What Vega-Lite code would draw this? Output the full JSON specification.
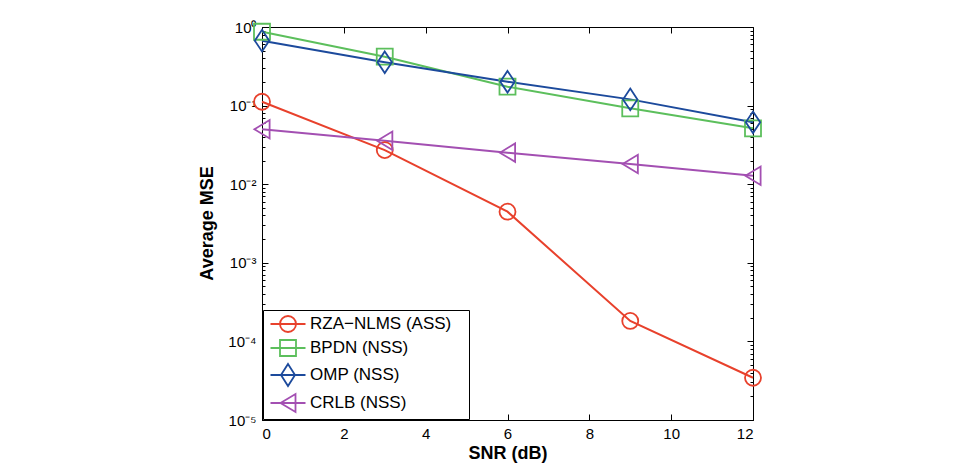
{
  "$schema": "https://vega.github.io/schema/vega-lite/v6.json",
  "autosize": "none",
  "width": 491,
  "height": 393,
  "padding": {"left": 262, "top": 27, "right": 208, "bottom": 52},
  "background": "white",
  "config": {
    "font": "Liberation Sans",
    "view": {"stroke": "black", "strokeWidth": 1},
    "axis": {"labelFont": "Liberation Sans", "labelFontSize": 15, "labelColor": "black", "domainColor": "black", "tickColor": "black", "tickWidth": 1, "ticks": true, "grid": false, "titleFont": "Liberation Sans", "titleFontSize": 18, "titleFontWeight": "bold", "titleColor": "black"},
    "axisX": {"ticks": true},
    "axisY": {"ticks": true},
    "legend": {
      "orient": "bottom-left", "offset": 1, "padding": 3, "strokeColor": "black", "fillColor": "white",
      "labelFont": "Liberation Sans", "labelFontSize": 17, "labelColor": "black", "labelLimit": 300,
      "symbolSize": 400, "symbolStrokeWidth": 1.8, "symbolOffset": 11, "labelOffset": 11, "rowPadding": 0
    },
    "point": {"filled": false, "strokeWidth": 1.8, "size": 256, "opacity": 1}
  },
  "data": {"values": [
    {"snr": 0, "mse": 0.112, "method": "RZA−NLMS (ASS)"},
    {"snr": 3, "mse": 0.0272, "method": "RZA−NLMS (ASS)"},
    {"snr": 6, "mse": 0.00447, "method": "RZA−NLMS (ASS)"},
    {"snr": 9, "mse": 0.000182, "method": "RZA−NLMS (ASS)"},
    {"snr": 12, "mse": 0.0000345, "method": "RZA−NLMS (ASS)"},
    {"snr": 0, "mse": 0.87, "method": "BPDN (NSS)"},
    {"snr": 3, "mse": 0.419, "method": "BPDN (NSS)"},
    {"snr": 6, "mse": 0.174, "method": "BPDN (NSS)"},
    {"snr": 9, "mse": 0.0924, "method": "BPDN (NSS)"},
    {"snr": 12, "mse": 0.0514, "method": "BPDN (NSS)"},
    {"snr": 0, "mse": 0.67, "method": "OMP (NSS)"},
    {"snr": 3, "mse": 0.356, "method": "OMP (NSS)"},
    {"snr": 6, "mse": 0.201, "method": "OMP (NSS)"},
    {"snr": 9, "mse": 0.12, "method": "OMP (NSS)"},
    {"snr": 12, "mse": 0.0613, "method": "OMP (NSS)"},
    {"snr": 0, "mse": 0.05, "method": "CRLB (NSS)"},
    {"snr": 3, "mse": 0.0357, "method": "CRLB (NSS)"},
    {"snr": 6, "mse": 0.0252, "method": "CRLB (NSS)"},
    {"snr": 9, "mse": 0.0181, "method": "CRLB (NSS)"},
    {"snr": 12, "mse": 0.0128, "method": "CRLB (NSS)"}
  ]},
  "layer": [
    {
      "mark": {"type": "line", "strokeWidth": 2},
      "encoding": {
        "x": {"field": "snr", "type": "quantitative", "title": "SNR (dB)",
          "scale": {"domain": [0, 12], "nice": false, "zero": false},
          "axis": {"orient": "bottom", "values": [0, 2, 4, 6, 8, 10, 12], "ticks": true,
            "tickSize": -6,
            "labelPadding": 12, "titleY": 24, "titleBaseline": "top"}},
        "y": {"field": "mse", "type": "quantitative", "title": "Average MSE",
          "scale": {"type": "log", "domain": [0.00001, 1], "nice": false},
          "axis": {"orient": "left", "ticks": true,
            "values": [0.00001,0.00002,0.00003,0.00004,0.00005,0.00006,0.00007,0.00008,0.00009,0.0001,0.0002,0.0003,0.0004,0.0005,0.0006,0.0007,0.0008,0.0009,0.001,0.002,0.003,0.004,0.005,0.006,0.007,0.008,0.009,0.01,0.02,0.03,0.04,0.05,0.06,0.07,0.08,0.09,0.1,0.2,0.3,0.4,0.5,0.6,0.7,0.8,0.9,1],
            "labelOverlap": false,
            "labelExpr": "abs(log(datum.value)/LN10 - round(log(datum.value)/LN10)) < 0.001 ? '10' + ['⁰','⁻¹','⁻²','⁻³','⁻⁴','⁻⁵'][-round(log(datum.value)/LN10)] : ''",
            "tickSize": {"condition": {"test": "abs(log(datum.value)/LN10 - round(log(datum.value)/LN10)) < 0.001", "value": -6}, "value": -3},
            "labelPadding": 12, "titleX": -55, "titleY": 196, "titleBaseline": "middle", "titleAngle": -90}},
        "color": {"field": "method", "type": "nominal",
          "scale": {"domain": ["RZA−NLMS (ASS)", "BPDN (NSS)", "OMP (NSS)", "CRLB (NSS)"], "range": ["#e8412c", "#5cbf5c", "#1c4a9c", "#a34fb2"]},
          "legend": {"title": null,
            "labelExpr": "datum.label + '\u00a0\u00a0\u00a0\u200b'",
            "encode": {"symbols": {"update": {
              "shape": {"signal": "datum.value === 'RZA−NLMS (ASS)' ? 'M-1.75,0H1.75M-0.8,0A0.8,0.8 0 1,1 0.8,0A0.8,0.8 0 1,1 -0.8,0' : datum.value === 'BPDN (NSS)' ? 'M-1.75,0H1.75M-0.8,-0.8H0.8V0.8H-0.8Z' : datum.value === 'OMP (NSS)' ? 'M-1.75,0H1.75M0,-1.1L0.7,0L0,1.1L-0.7,0Z' : 'M-1.75,0H1.75M-0.75,0L0.75,-0.9L0.75,0.9Z'"},
              "fill": {"value": "transparent"},
              "fillOpacity": {"value": 0}
            }}}}
        }
      }
    },
    {
      "transform": [{"filter": "datum.method === 'RZA−NLMS (ASS)'"}],
      "mark": {"type": "point", "shape": "circle"},
      "encoding": {
        "x": {"field": "snr", "type": "quantitative",
          "axis": {"orient": "top", "values": [0, 2, 4, 6, 8, 10, 12], "ticks": true,
            "tickSize": -6,
            "labels": false, "title": null, "domain": false}},
        "y": {"field": "mse", "type": "quantitative",
          "axis": {"orient": "right", "ticks": true,
            "values": [0.00001,0.00002,0.00003,0.00004,0.00005,0.00006,0.00007,0.00008,0.00009,0.0001,0.0002,0.0003,0.0004,0.0005,0.0006,0.0007,0.0008,0.0009,0.001,0.002,0.003,0.004,0.005,0.006,0.007,0.008,0.009,0.01,0.02,0.03,0.04,0.05,0.06,0.07,0.08,0.09,0.1,0.2,0.3,0.4,0.5,0.6,0.7,0.8,0.9,1],
            "tickSize": {"condition": {"test": "abs(log(datum.value)/LN10 - round(log(datum.value)/LN10)) < 0.001", "value": -6}, "value": -3},
            "labels": false, "title": null, "domain": false}},
        "color": {"field": "method", "type": "nominal"}
      }
    },
    {
      "transform": [{"filter": "datum.method === 'BPDN (NSS)'"}],
      "mark": {"type": "point", "shape": "square"},
      "encoding": {
        "x": {"field": "snr", "type": "quantitative", "axis": null},
        "y": {"field": "mse", "type": "quantitative", "axis": null},
        "color": {"field": "method", "type": "nominal"}
      }
    },
    {
      "transform": [{"filter": "datum.method === 'OMP (NSS)'"}],
      "mark": {"type": "point", "shape": "M0,-1.35L0.9,0L0,1.35L-0.9,0Z"},
      "encoding": {
        "x": {"field": "snr", "type": "quantitative", "axis": null},
        "y": {"field": "mse", "type": "quantitative", "axis": null},
        "color": {"field": "method", "type": "nominal"}
      }
    },
    {
      "transform": [{"filter": "datum.method === 'CRLB (NSS)'"}],
      "mark": {"type": "point", "shape": "M-0.95,0L0.95,-1.15L0.95,1.15Z"},
      "encoding": {
        "x": {"field": "snr", "type": "quantitative", "axis": null},
        "y": {"field": "mse", "type": "quantitative", "axis": null},
        "color": {"field": "method", "type": "nominal"}
      }
    }
  ],
  "resolve": {"axis": {"x": "independent", "y": "independent"}}
}
